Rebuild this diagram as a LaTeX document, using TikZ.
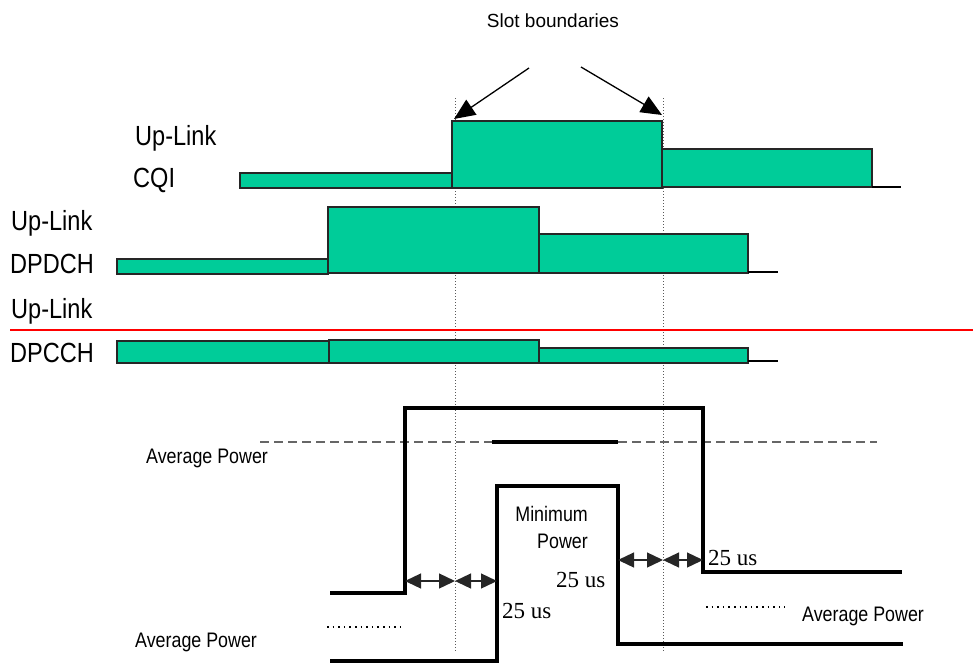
\documentclass[tikz,border=0pt]{standalone}
\usepackage{fontspec}
\setmainfont{Liberation Sans}
\newfontfamily\narrowfont{Liberation Sans}[FakeStretch=0.85]
\newfontfamily\seriffont{Liberation Serif}
\usetikzlibrary{arrows.meta}
\definecolor{burstgreen}{RGB}{0,204,153}
\tikzset{
  chlabel/.style={font=\narrowfont\fontsize{27.7}{30}\selectfont, anchor=base west, inner sep=0pt},
  powlabel/.style={font=\narrowfont\fontsize{21}{23}\selectfont, anchor=base west, inner sep=0pt},
  uslabel/.style={font=\seriffont\fontsize{23}{25}\selectfont, anchor=base west, inner sep=0pt},
  burst/.style={fill=burstgreen, draw=black!85, line width=1.5pt},
  tailline/.style={line width=2.8pt},
  slotline/.style={gray!70!black, dotted, line width=1pt},
  powline/.style={line width=4pt},
  avgdash/.style={gray!80!black, line width=1.3pt, dash pattern=on 9pt off 5pt},
  avgdot/.style={line width=1.6pt, dash pattern=on 1.6pt off 4pt},
  gap/.style={{Triangle[length=16pt,width=15pt]}-{Triangle[length=16pt,width=15pt]}, line width=1.3pt, black!85},
}
\begin{document}
\begin{tikzpicture}[x=1pt, y=-1pt, >=stealth]
  \useasboundingbox (0,0) rectangle (973,664);

  % slot boundaries
  \coordinate (slotA top) at (455,98);
  \coordinate (slotA bot) at (455,652);
  \coordinate (slotB top) at (663,98);
  \coordinate (slotB bot) at (663,652);
  \draw[slotline] (slotA top) -- (slotA bot);
  \draw[slotline] (slotB top) -- (slotB bot);
  \node[font=\fontsize{19}{21}\selectfont, anchor=base, inner sep=0pt] (slotText) at (553,27) {Slot boundaries};
  \coordinate (tailL) at (529,68);
  \coordinate (tipL) at (454,119);
  \coordinate (tailR) at (581,67);
  \coordinate (tipR) at (662,115);
  \draw[-{Triangle[length=21pt,width=18pt]}, line width=1.3pt] (tailL) -- (tipL);
  \draw[-{Triangle[length=21pt,width=18pt]}, line width=1.3pt] (tailR) -- (tipR);

  % channels
  \node[chlabel] (cqiUp) at (135,145) {Up-Link};
  \node[chlabel] (cqiName) at (133,187) {CQI};
  \node[chlabel] (dpdchUp) at (11,230) {Up-Link};
  \node[chlabel] (dpdchName) at (10,273) {DPDCH};
  \node[chlabel] (dpcchUp) at (11,318) {Up-Link};
  \node[chlabel] (dpcchName) at (10,362) {DPCCH};

  \draw[burst] (240,173) rectangle (452,188);
  \draw[burst] (452,121) rectangle (662,188);
  \draw[burst] (662,149) rectangle (872,187);
  \coordinate (cqiEnd) at (872,187);
  \coordinate (cqiTail) at (901,187);
  \draw[tailline] (cqiEnd) -- (cqiTail);

  \draw[burst] (117,259) rectangle (328,274);
  \draw[burst] (328,207) rectangle (539,273);
  \draw[burst] (539,234) rectangle (748,273);
  \coordinate (dpdchEnd) at (748,272);
  \coordinate (dpdchTail) at (778,272);
  \draw[tailline] (dpdchEnd) -- (dpdchTail);

  \draw[red, line width=2pt] (10,330) -- (973,330);

  \draw[burst] (117,341) rectangle (329,363);
  \draw[burst] (329,340) rectangle (539,363);
  \draw[burst] (539,348) rectangle (748,363);
  \coordinate (dpcchEnd) at (748,361);
  \coordinate (dpcchTail) at (778,361);
  \draw[tailline] (dpcchEnd) -- (dpcchTail);

  % power levels
  \draw[avgdash] (260,442) -- (492,442);
  \draw[avgdash] (618,442) -- (877,442);
  \draw[powline] (492,442) -- (618,442);
  \draw[powline] (330,593) -- (405,593) -- (405,408) -- (703,408) -- (703,572) -- (902,572);
  \draw[powline] (330,661) -- (497,661) -- (497,486) -- (618,486) -- (618,644) -- (903,644);
  \draw[avgdot] (327,627) -- (405,627);
  \draw[avgdot] (706,607) -- (785,607);

  \node[powlabel] (avgLeft) at (146,463) {Average Power};
  \node[powlabel] (avgBottom) at (135,647) {Average Power};
  \node[powlabel] (avgRight) at (802,621) {Average Power};
  \node[powlabel, anchor=base east] (minWord) at (588,521) {Minimum};
  \node[powlabel, anchor=base east] (powWord) at (588,548) {Power};

  % ramp times
  \coordinate (rampA) at (405,581);
  \coordinate (rampB) at (455,581);
  \coordinate (rampC) at (497,581);
  \coordinate (rampD) at (618,560);
  \coordinate (rampE) at (663,560);
  \coordinate (rampF) at (703,560);
  \draw[gap] (rampA) -- (rampB);
  \draw[gap] (rampB) -- (rampC);
  \draw[gap] (rampD) -- (rampE);
  \draw[gap] (rampE) -- (rampF);
  \node[uslabel] (usUp) at (502,618) {25 us};
  \node[uslabel] (usMid) at (556,587) {25 us};
  \node[uslabel] (usDown) at (708,565) {25 us};
\end{tikzpicture}
\end{document}
